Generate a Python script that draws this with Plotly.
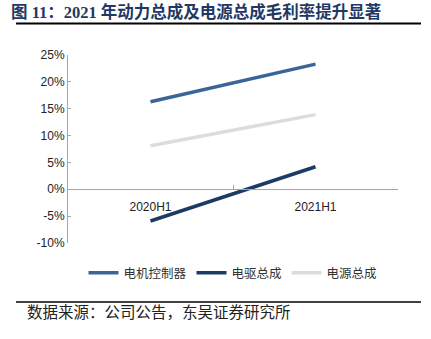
import plotly.graph_objects as go

categories = ["2020H1", "2021H1"]
motor_ctrl = [16.3, 23.3]   # 电机控制器
edrive = [-5.9, 4.2]        # 电驱总成
power = [8.1, 13.9]         # 电源总成
y_ticks = [-10, -5, 0, 5, 10, 15, 20, 25]

W, H = 431, 339
fig = go.Figure()
series = [
    ("电机控制器", motor_ctrl, "#3C6597"),
    ("电驱总成", edrive, "#1B3A64"),
    ("电源总成", power, "#DCDCDC"),
]
for name, vals, col in series:
    fig.add_trace(go.Scatter(x=categories, y=vals, name=name, mode="lines",
                             line=dict(color=col, width=3.5)))

plot_h = H - 55 - 96
fig.update_layout(
    width=W, height=H,
    margin=dict(l=68, r=33, t=55, b=96),
    paper_bgcolor="white", plot_bgcolor="white",
    showlegend=True,
    legend=dict(orientation="h", x=0.5, xanchor="center",
                y=(H - 96 - 273) / plot_h, yanchor="middle", yref="paper",
                font=dict(family="Noto Sans CJK SC", size=12.5, color="#333"),
                itemwidth=30, tracegroupgap=0),
    xaxis=dict(type="category", range=[-0.5, 1.5], showgrid=False,
               showline=True, linecolor="#A6A6A6", linewidth=1,
               anchor="free", position=10/35,
               ticks="inside", tickson="boundaries", ticklen=4, tickcolor="#A6A6A6",
               ticklabelstandoff=6,
               tickfont=dict(family="Liberation Sans", size=12, color="#222"),
               zeroline=False),
    yaxis=dict(range=[-10, 25], tickvals=y_ticks, ticktext=[f"{v}%" for v in y_ticks],
               showgrid=False, zeroline=False, showline=True, linecolor="#A6A6A6", linewidth=1,
               ticks="inside", ticklen=3, tickcolor="#A6A6A6",
               tickfont=dict(family="Liberation Sans", size=12, color="#222")),
    font=dict(family="Liberation Sans"),
)

fig.add_annotation(text="<b>图 11：2021 年动力总成及电源总成毛利率提升显著</b>",
                   xref="paper", yref="paper", x=-59/330, xanchor="left",
                   y=(H - 96 - 12) / plot_h, yanchor="middle", showarrow=False,
                   font=dict(family="Liberation Serif, Noto Sans CJK SC", size=16.5, color="#1F3864"))
fig.add_annotation(text="数据来源：公司公告，东吴证券研究所",
                   xref="paper", yref="paper", x=(25 - 68) / 330, xanchor="left",
                   y=(H - 96 - 311) / plot_h, yanchor="middle", showarrow=False,
                   font=dict(family="Noto Sans CJK SC", size=15.5, color="#222"))
for yy, lw in [(23.5, 2), (302, 1.5)]:
    fig.add_shape(type="line", xref="paper", yref="paper",
                  x0=(16 - 68) / 330, x1=(421 - 68) / 330,
                  y0=(H - 96 - yy) / plot_h, y1=(H - 96 - yy) / plot_h,
                  line=dict(color="black", width=lw))

fig.write_html("out.html")
